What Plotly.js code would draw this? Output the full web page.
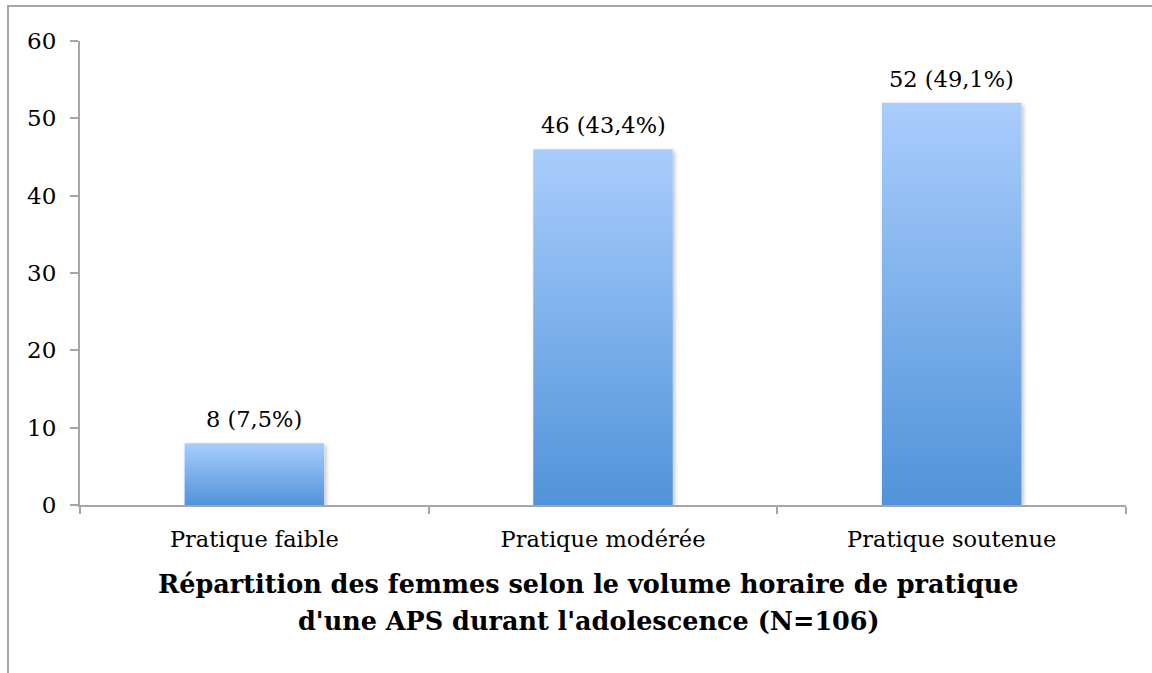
<!DOCTYPE html>
<html>
<head>
<meta charset="utf-8">
<script src="https://cdn.plot.ly/plotly-3.0.1.min.js"></script>
<style>
  html, body { margin: 0; padding: 0; background: #fff; }
  #wrap { position: relative; width: 1152px; height: 673px; overflow: hidden; }
  #chart { position: absolute; left: 0; top: 0; width: 1152px; height: 673px; }
  #frame { position: absolute; left: 7px; top: 5px; width: 1200px; height: 700px;
           border-left: 2px solid #a6a6a6; border-top: 2px solid #a6a6a6; pointer-events: none; }
</style>
</head>
<body>
<div id="wrap">
  <div id="chart"></div>
  <div id="frame"></div>
</div>
<script>
const categories = ["Pratique faible", "Pratique modérée", "Pratique soutenue"];
const counts = [8, 46, 52];
const barLabels = ["8 (7,5%)", "46 (43,4%)", "52 (49,1%)"];
const yTickValues = [0, 10, 20, 30, 40, 50, 60];
const titleLines = [
  "Répartition des femmes selon le volume horaire de pratique",
  "d'une APS durant l'adolescence (N=106)"
];

const FONT = "DejaVu Serif, Liberation Serif, serif";

const trace = {
  type: "bar",
  x: categories,
  y: counts,
  width: 0.4,
  marker: { color: "#7aaeea", line: { width: 0 } },
  hoverinfo: "none"
};

const titleY = [-0.170, -0.250];

const valueAnnotations = categories.map(function (c, i) {
  return {
    text: barLabels[i],
    x: c, y: counts[i],
    xref: "x", yref: "y",
    xanchor: "center", yanchor: "bottom",
    yshift: 9,
    showarrow: false,
    font: { family: FONT, size: 22.5, color: "#000" }
  };
});

const titleAnnotations = titleLines.map(function (t, i) {
  return {
    text: "<b>" + t + "</b>",
    xref: "paper", yref: "paper",
    x: 0.4866, y: titleY[i],
    xanchor: "center", yanchor: "middle",
    showarrow: false,
    font: { family: FONT, size: 25.5, color: "#000" }
  };
});

const layout = {
  width: 1152,
  height: 673,
  margin: { l: 80, r: 26, t: 41, b: 168 },
  paper_bgcolor: "#fff",
  plot_bgcolor: "#fff",
  showlegend: false,
  font: { family: FONT, size: 22, color: "#000" },
  xaxis: {
    type: "category",
    showline: true,
    linecolor: "#a6a6a6",
    linewidth: 2,
    ticks: "outside",
    tickson: "boundaries",
    ticklen: 7,
    tickwidth: 2,
    tickcolor: "#a6a6a6",
    ticklabelstandoff: 13,
    tickfont: { family: FONT, size: 22.5, color: "#000" },
    showgrid: false,
    zeroline: false,
    fixedrange: true
  },
  yaxis: {
    range: [0, 60],
    tickvals: yTickValues,
    ticktext: yTickValues.map(String),
    showline: true,
    linecolor: "#a6a6a6",
    linewidth: 2,
    ticks: "outside",
    ticklen: 8,
    tickwidth: 2,
    tickcolor: "#a6a6a6",
    ticklabelstandoff: 9,
    tickfont: { family: FONT, size: 23, color: "#000" },
    showgrid: false,
    zeroline: false,
    fixedrange: true
  },
  annotations: valueAnnotations.concat(titleAnnotations)
};

Plotly.newPlot("chart", [trace], layout, { displayModeBar: false, staticPlot: true }).then(function (gd) {
  const svg = gd.querySelector("svg.main-svg");
  const NS = "http://www.w3.org/2000/svg";
  let defs = svg.querySelector("defs");
  if (!defs) { defs = document.createElementNS(NS, "defs"); svg.insertBefore(defs, svg.firstChild); }
  const grad = document.createElementNS(NS, "linearGradient");
  grad.setAttribute("id", "barGrad");
  grad.setAttribute("x1", "0"); grad.setAttribute("y1", "0");
  grad.setAttribute("x2", "0"); grad.setAttribute("y2", "1");
  [["0", "#a9cdfc"], ["1", "#5093da"]].forEach(function (s) {
    const st = document.createElementNS(NS, "stop");
    st.setAttribute("offset", s[0]);
    st.setAttribute("stop-color", s[1]);
    grad.appendChild(st);
  });
  defs.appendChild(grad);
  const filt = document.createElementNS(NS, "filter");
  filt.setAttribute("id", "barShadow");
  filt.setAttribute("x", "-10%"); filt.setAttribute("y", "-10%");
  filt.setAttribute("width", "130%"); filt.setAttribute("height", "130%");
  const ds = document.createElementNS(NS, "feDropShadow");
  ds.setAttribute("dx", "2"); ds.setAttribute("dy", "2");
  ds.setAttribute("stdDeviation", "2");
  ds.setAttribute("flood-color", "#000");
  ds.setAttribute("flood-opacity", "0.25");
  filt.appendChild(ds);
  defs.appendChild(filt);
  gd.querySelectorAll(".trace.bars .point path").forEach(function (p) {
    p.style.fill = "url(#barGrad)";
    p.setAttribute("filter", "url(#barShadow)");
  });
});
</script>
</body>
</html>
